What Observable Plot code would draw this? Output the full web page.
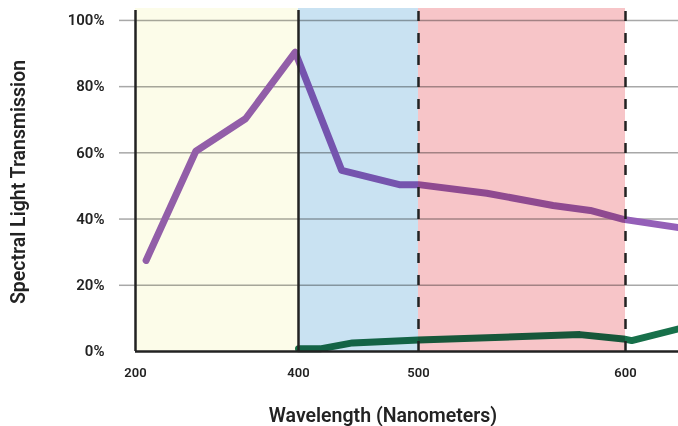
<!DOCTYPE html>
<html><head><meta charset="utf-8">
<script src="https://cdn.jsdelivr.net/npm/d3@7"></script>
<script src="https://cdn.jsdelivr.net/npm/@observablehq/plot@0.6"></script>
<style>html,body{margin:0;padding:0;background:#fff}svg{display:block}</style>
</head><body><div id="chart"></div>
<script>
// Data
const purpleWavelength = [213, 274, 335, 396, 436, 484, 500, 533, 565, 583, 599, 626];
const purpleTransmission = [0.275, 0.605, 0.703, 0.904, 0.547, 0.504, 0.504, 0.478, 0.441, 0.426, 0.399, 0.374];
const greenWavelength = [400, 418, 445, 500, 578, 599, 603, 626];
const greenTransmission = [0.008, 0.008, 0.026, 0.035, 0.051, 0.038, 0.033, 0.069];
const bandStart = [200, 400, 500];
const bandEnd = [400, 500, 600];
const bandTop = 1.036;
const xTicks = [200, 400, 500, 600];
const yTicks = [0, 0.2, 0.4, 0.6, 0.8, 1.0];
const gridTicks = [0.2, 0.4, 0.6, 0.8, 1.0];
const solidDividers = [200, 400];
const dashedDividers = [500, 600];

// Styles
const bandColors = ["#fcfce9", "#c9e2f2", "#f7c5c8"];
const purple = "#945fb8";
const green = "#17704a";

// The original's wavelength axis is not uniform: each segment has its own pixel spacing.
const warp = d3.scaleLinear().domain([200, 400, 500, 600]).range([0, 163, 283, 490]);

const purpleData = purpleWavelength.map((x, i) => ({x, y: purpleTransmission[i]}));
const greenData = greenWavelength.map((x, i) => ({x, y: greenTransmission[i]}));
const bands = bandStart.map((s, i) => ({x1: s, x2: bandEnd[i], fill: bandColors[i]}));

const chart = Plot.plot({
  width: 678,
  height: 426,
  marginLeft: 135,
  marginRight: 0,
  marginTop: 8,
  marginBottom: 75,
  x: {transform: warp, domain: [0, 543]},
  y: {domain: [0, bandTop]},
  color: {type: "identity"},
  style: {fontFamily: "Roboto, sans-serif", color: "#222", background: "#fff"},
  marks: [
    Plot.gridY(gridTicks, {stroke: "#a8a8a8", strokeOpacity: 1, strokeWidth: 1.5}),
    Plot.axisY(gridTicks, {tickSize: 16, tickFormat: () => "", stroke: "#a8a8a8", strokeWidth: 1.5, label: null}),
    Plot.axisY(yTicks, {tickSize: 0, tickPadding: 31, tickFormat: d3.format(".0%"), fontSize: 15, fontWeight: 600, label: null}),
    Plot.axisX(xTicks, {tickSize: 0, tickPadding: 16, fontSize: 13, fontWeight: 600, label: null}),
    Plot.line(purpleData, {x: "x", y: "y", stroke: purple, strokeWidth: 7, strokeLinecap: "round", strokeLinejoin: "round"}),
    Plot.line(greenData, {x: "x", y: "y", stroke: green, strokeWidth: 7, strokeLinejoin: "round"}),
    Plot.rect(bands, {x1: "x1", x2: "x2", y1: 0, y2: bandTop, fill: "fill", mixBlendMode: "multiply"}),
    Plot.ruleY([0], {stroke: "#222", strokeWidth: 2.5}),
    Plot.ruleX(solidDividers, {y1: 0, y2: 1.03, stroke: "#222", strokeWidth: 2.5}),
    Plot.ruleX(dashedDividers, {y1: 0, y2: bandTop, stroke: "#222", strokeWidth: 2.5, strokeDasharray: "10,12"}),
    Plot.text(["Wavelength (Nanometers)"], {frameAnchor: "bottom", textAnchor: "middle", dx: -24, dy: 70, fontSize: 19.5, fontWeight: 600, fill: "#222"}),
    Plot.text(["Spectral Light Transmission"], {frameAnchor: "left", textAnchor: "middle", rotate: -90, dx: -117, dy: 2, fontSize: 19.5, fontWeight: 600, fill: "#222"})
  ]
});
document.getElementById("chart").appendChild(chart);
</script>
</body></html>
